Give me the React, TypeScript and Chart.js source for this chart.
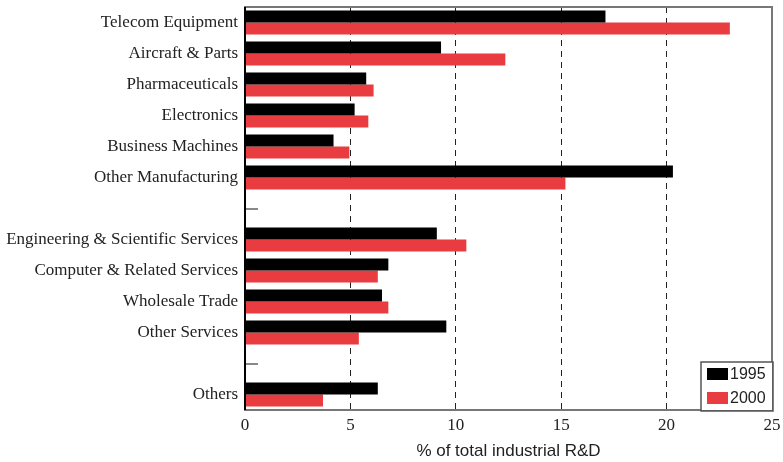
import React, { useEffect, useRef } from "react";
import { Chart, registerables } from "chart.js";

Chart.register(...registerables);

const categories = [
  "Telecom Equipment",
  "Aircraft & Parts",
  "Pharmaceuticals",
  "Electronics",
  "Business Machines",
  "Other Manufacturing",
  "",
  "Engineering & Scientific Services",
  "Computer & Related Services",
  "Wholesale Trade",
  "Other Services",
  "",
  "Others",
];
const values1995 = [17.1, 9.3, 5.75, 5.2, 4.2, 20.3, null, 9.1, 6.8, 6.5, 9.55, null, 6.3];
const values2000 = [23.0, 12.35, 6.1, 5.85, 4.95, 15.2, null, 10.5, 6.3, 6.8, 5.4, null, 3.7];
const seriesLabels = ["1995", "2000"];
const seriesColors = ["#000000", "#E83C41"];
const xMin = 0;
const xMax = 25;
const xStep = 5;
const xTitle = "% of total industrial R&D";

const SERIF = "'Liberation Serif', 'Times New Roman', serif";
const SANS = "'Liberation Sans', Arial, sans-serif";

const framePlugin = {
  id: "frame",
  afterDatasetsDraw(chart: any) {
    const { ctx, chartArea: a, scales } = chart;
    ctx.save();
    const ys = scales.y;
    ctx.strokeStyle = "#888";
    ctx.lineWidth = 2;
    categories.forEach((c, i) => {
      if (c === "") {
        const y = Math.round(ys.getPixelForValue(i));
        ctx.beginPath();
        ctx.moveTo(a.left, y);
        ctx.lineTo(a.left + 13, y);
        ctx.stroke();
      }
    });
    ctx.strokeStyle = "#777";
    ctx.lineWidth = 2;
    ctx.strokeRect(a.left, a.top, a.right - a.left, a.bottom - a.top);
    ctx.strokeStyle = "#000";
    ctx.beginPath();
    ctx.moveTo(a.left, a.top);
    ctx.lineTo(a.left, a.bottom);
    ctx.stroke();
    ctx.restore();
  },
  afterDraw(chart: any) {
    const { ctx, chartArea: a } = chart;
    const w = 71;
    const h = 48;
    const x0 = a.right - w;
    const y0 = a.bottom - h;
    ctx.save();
    ctx.fillStyle = "#fff";
    ctx.fillRect(x0, y0, w, h);
    ctx.strokeStyle = "#555";
    ctx.lineWidth = 1.5;
    ctx.strokeRect(x0, y0, w + 1, h + 1);
    ctx.font = `16px ${SANS}`;
    ctx.textBaseline = "middle";
    ctx.textAlign = "left";
    chart.data.datasets.forEach((ds: any, i: number) => {
      const cy = y0 + 12 + i * 24;
      ctx.fillStyle = ds.backgroundColor;
      ctx.fillRect(x0 + 6, cy - 6, 21, 12);
      ctx.fillStyle = "#222";
      ctx.fillText(ds.label, x0 + 29, cy + 1);
    });
    ctx.restore();
  },
};

export default function App() {
  const ref = useRef<HTMLCanvasElement | null>(null);
  useEffect(() => {
    document.body.style.margin = "0";
    const chart = new Chart(ref.current as HTMLCanvasElement, {
      type: "bar",
      data: {
        labels: categories,
        datasets: [
          { label: seriesLabels[0], data: values1995 as any, backgroundColor: seriesColors[0] },
          { label: seriesLabels[1], data: values2000 as any, backgroundColor: seriesColors[1] },
        ],
      },
      options: {
        indexAxis: "y",
        animation: false,
        responsive: true,
        maintainAspectRatio: false,
        layout: { padding: { top: 7, right: 11, left: 0, bottom: 0 } },
        datasets: { bar: { categoryPercentage: 0.775, barPercentage: 1.0 } },
        plugins: { legend: { display: false }, tooltip: { enabled: false } },
        scales: {
          x: {
            min: xMin,
            max: xMax,
            ticks: { stepSize: xStep, padding: 5, color: "#222", font: { family: SERIF, size: 17 } },
            grid: {
              drawTicks: false,
              color: (c: any) =>
                c.tick && (c.tick.value === xMin || c.tick.value === xMax) ? "rgba(0,0,0,0)" : "#222",
              lineWidth: 1,
            },
            border: { display: false, dash: [6, 5] },
            title: {
              display: true,
              text: xTitle,
              color: "#222",
              font: { family: SANS, size: 17 },
              padding: { top: 0, bottom: 0 },
            },
            afterFit: (s: any) => {
              s.height = 52;
              s.paddingLeft = 0;
              s.paddingRight = 0;
            },
          },
          y: {
            grid: { display: false, drawTicks: false },
            border: { display: false },
            ticks: { padding: 7, color: "#222", font: { family: SERIF, size: 17 } },
            afterFit: (s: any) => {
              s.width = 245;
              s.paddingTop = 0;
              s.paddingBottom = 0;
            },
          },
        },
      },
      plugins: [framePlugin],
    });
    return () => chart.destroy();
  }, []);
  return (
    <div style={{ position: "fixed", left: 0, top: 0, width: 783, height: 462 }}>
      <canvas ref={ref} />
    </div>
  );
}
